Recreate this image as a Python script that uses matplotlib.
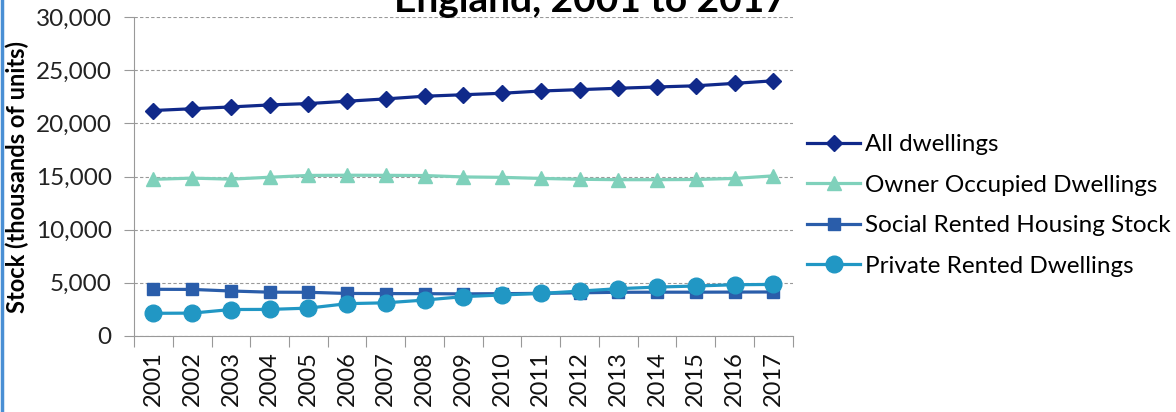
import matplotlib.pyplot as plt
from matplotlib.lines import Line2D

# Dwelling stock by tenure, England (thousands of units)
years = [str(y) for y in range(2001, 2018)]
all_dwellings = [21207, 21373, 21543, 21731, 21860, 22080, 22300, 22550, 22690, 22830,
                 23040, 23170, 23300, 23420, 23530, 23760, 24000]
owner_occupied = [14735, 14846, 14752, 14930, 15100, 15120, 15110, 15090, 14960, 14920,
                  14820, 14740, 14700, 14700, 14720, 14820, 15060]
social_rented = [4390, 4380, 4230, 4120, 4110, 4000, 3990, 3980, 3960, 3980,
                 4010, 4060, 4110, 4120, 4120, 4130, 4140]
private_rented = [2133, 2150, 2490, 2500, 2620, 3040, 3120, 3380, 3700, 3860,
                  4000, 4220, 4450, 4600, 4700, 4820, 4850]

plt.rcParams['font.family'] = ['Lato', 'DejaVu Sans']

fig = plt.figure(figsize=(11.76, 4.12), dpi=100)
ax = fig.add_axes([0.114, 0.1845, 0.56, 0.7742])

x = list(range(len(years)))
series = [
    ('All dwellings', all_dwellings, '#10298a', 'D', 8),
    ('Owner Occupied Dwellings', owner_occupied, '#7fd1bb', '^', 10),
    ('Social Rented Housing Stock', social_rented, '#2a5daa', 's', 9),
    ('Private Rented Dwellings', private_rented, '#2197c4', 'o', 12),
]
for name, vals, col, mk, ms in series:
    ax.plot(x, vals, color=col, lw=2.3, marker=mk, markersize=ms, label=name, zorder=3)

ax.set_ylim(0, 30000)
ax.set_yticks(range(0, 30001, 5000))
ax.set_yticklabels([f'{v:,}' for v in range(0, 30001, 5000)], fontsize=17.5, color='#222222')
ax.yaxis.grid(True, linestyle=(0, (3, 2)), color='#999999', lw=0.8)
ax.set_axisbelow(True)

ax.set_xlim(-0.5, len(years) - 0.5)
ax.set_xticks([i - 0.5 for i in range(len(years) + 1)])
ax.set_xticklabels([])
ax.set_xticks(x, minor=True)
ax.set_xticklabels(years, minor=True, rotation=90, fontsize=17, color='#111111')
ax.tick_params(axis='x', which='major', length=8, color='#999999')
ax.tick_params(axis='x', which='minor', length=0, pad=11)
ax.tick_params(axis='y', length=7, color='#999999', pad=9)

for s in ['top', 'right']:
    ax.spines[s].set_visible(False)
for s in ['left', 'bottom']:
    ax.spines[s].set_color('#999999')

ax.set_ylabel('Stock (thousands of units)', fontsize=17, fontweight='bold', labelpad=5)

fig.legend(loc='upper left', bbox_to_anchor=(0.6675, 0.727), frameon=False, fontsize=17.5,
           handlelength=2.2, handletextpad=0.2, labelspacing=0.8)

# title is cut off at the top of the image
fig.text(0.502, 1 - 12 / 412, 'England, 2001 to 2017', fontsize=28, fontweight='bold',
         ha='center', va='baseline')

# blue frame edge on the left
fig.add_artist(Line2D([0.0015, 0.0015], [0, 1], color='#4a8fd4', lw=2.5, transform=fig.transFigure))

fig.savefig('out.png', dpi=100)
